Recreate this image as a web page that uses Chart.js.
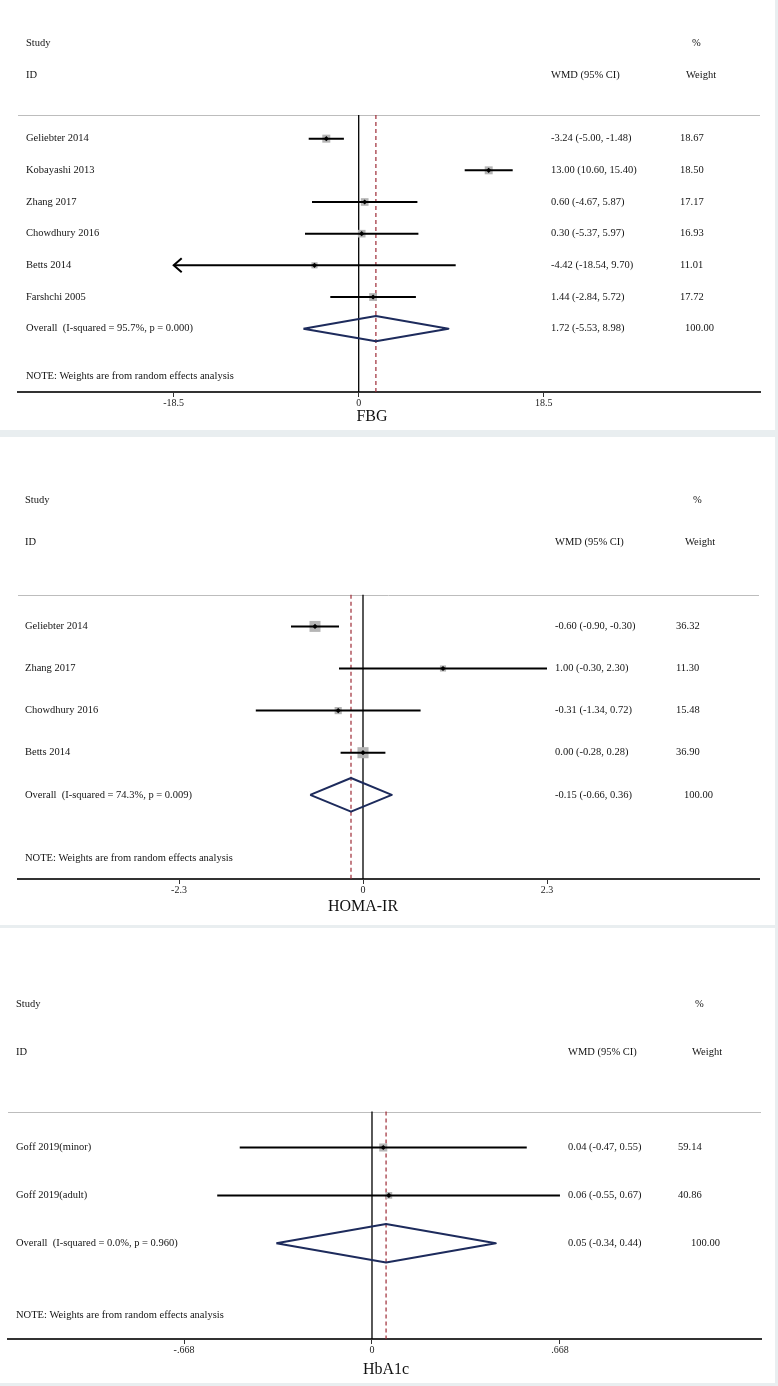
<!DOCTYPE html>
<html>
<head>
<meta charset="utf-8">
<script src="https://cdn.jsdelivr.net/npm/chart.js@4.4.1/dist/chart.umd.min.js"></script>
<style>
  body { margin: 0; background: #e9eef0; width: 778px; height: 1386px; position: relative; overflow: hidden; }
  .panel { position: absolute; left: 0; width: 775px; background: #fff; }
  canvas { display: block; }
</style>
</head>
<body>
<div class="panel" style="top:0;height:430px"><canvas id="fbgChart" width="775" height="430" style="width:775px;height:430px"></canvas></div>
<div class="panel" style="top:437px;height:488px"><canvas id="homaChart" width="775" height="488" style="width:775px;height:488px"></canvas></div>
<div class="panel" style="top:928px;height:455px"><canvas id="hba1cChart" width="775" height="455" style="width:775px;height:455px"></canvas></div>

<script>
// FBG
var fbgStudies = ["Geliebter 2014", "Kobayashi 2013", "Zhang 2017", "Chowdhury 2016", "Betts 2014", "Farshchi 2005"];
var fbgWmd    = [-3.24, 13.00, 0.60, 0.30, -4.42, 1.44];
var fbgLower  = [-5.00, 10.60, -4.67, -5.37, -18.54, -2.84];
var fbgUpper  = [-1.48, 15.40, 5.87, 5.97, 9.70, 5.72];
var fbgWeight = [18.67, 18.50, 17.17, 16.93, 11.01, 17.72];
var fbgOverall = [1.72, -5.53, 8.98];   // wmd, lower, upper
var fbgHet = "Overall  (I-squared = 95.7%, p = 0.000)";
var fbgTicks = [-18.5, 0, 18.5];
var fbgTickLabels = ["-18.5", "0", "18.5"];

// HOMA-IR
var homaStudies = ["Geliebter 2014", "Zhang 2017", "Chowdhury 2016", "Betts 2014"];
var homaWmd    = [-0.60, 1.00, -0.31, 0.00];
var homaLower  = [-0.90, -0.30, -1.34, -0.28];
var homaUpper  = [-0.30, 2.30, 0.72, 0.28];
var homaWeight = [36.32, 11.30, 15.48, 36.90];
var homaOverall = [-0.15, -0.66, 0.36];
var homaHet = "Overall  (I-squared = 74.3%, p = 0.009)";
var homaTicks = [-2.3, 0, 2.3];
var homaTickLabels = ["-2.3", "0", "2.3"];

// HbA1c
var hbaStudies = ["Goff 2019(minor)", "Goff 2019(adult)"];
var hbaWmd    = [0.04, 0.06];
var hbaLower  = [-0.47, -0.55];
var hbaUpper  = [0.55, 0.668];
var hbaWeight = [59.14, 40.86];
var hbaOverall = [0.05, -0.34, 0.44];
var hbaHet = "Overall  (I-squared = 0.0%, p = 0.960)";
var hbaTicks = [-0.668, 0, 0.668];
var hbaTickLabels = ["-.668", "0", ".668"];

Chart.defaults.font.family = '"Liberation Serif", "Times New Roman", serif';

function ciText(est, lo, hi) {
  return est.toFixed(2) + " (" + lo.toFixed(2) + ", " + hi.toFixed(2) + ")";
}

var forestPlugin = {
  id: "forest",
  beforeDatasetsDraw: function (chart) {
    var a = chart.chartArea, ctx = chart.ctx;
    var y = Math.round(chart.scales.y.getPixelForValue(-0.75)) + 0.5;
    ctx.save();
    ctx.strokeStyle = "#bdbdbd";
    ctx.lineWidth = 1;
    ctx.beginPath();
    ctx.moveTo(a.left, y);
    ctx.lineTo(a.right, y);
    ctx.stroke();
    ctx.restore();
  },
  afterDatasetsDraw: function (chart) {
    // arrow heads where a CI runs past the outer tick
    var o = chart.options.plugins.forest, ctx = chart.ctx;
    var xs = chart.scales.x, ys = chart.scales.y;
    ctx.save();
    ctx.strokeStyle = "#000";
    ctx.lineWidth = 2;
    o.arrows.forEach(function (ar) {
      var px = xs.getPixelForValue(ar.x), py = ys.getPixelForValue(ar.row);
      ctx.beginPath();
      ctx.moveTo(px - ar.dir * 8, py - 7);
      ctx.lineTo(px, py);
      ctx.lineTo(px - ar.dir * 8, py + 7);
      ctx.stroke();
    });
    ctx.restore();
  },
  afterDraw: function (chart) {
    var o = chart.options.plugins.forest, ctx = chart.ctx;
    var ys = chart.scales.y, a = chart.chartArea;
    var n = o.studies.length;
    ctx.save();
    ctx.font = '10.5px "Liberation Serif"';
    ctx.fillStyle = "#141414";
    ctx.textBaseline = "middle";
    ctx.textAlign = "left";
    function put(t, x, row) { ctx.fillText(t, x, ys.getPixelForValue(row)); }

    put("Study", o.colStudy, -3);
    put("%", o.colWt + o.pctDx, -3);
    put("ID", o.colStudy, -2);
    put("WMD (95% CI)", o.colWmd, -2);
    put("Weight", o.colWt + o.hdrDx, -2);

    var total = 0;
    for (var i = 0; i < n; i++) {
      put(o.studies[i], o.colStudy, i);
      put(ciText(o.wmd[i], o.lower[i], o.upper[i]), o.colWmd, i);
      put(o.weight[i].toFixed(2), o.colWt, i);
      total += o.weight[i];
    }
    put(o.het, o.colStudy, n);
    put(ciText(o.overall[0], o.overall[1], o.overall[2]), o.colWmd, n);
    put(total.toFixed(2), o.colWt + o.hdrDx - 1, n);
    put("NOTE: Weights are from random effects analysis", o.colStudy, n + 1.5);

    ctx.font = '16px "Liberation Serif"';
    ctx.fillStyle = "#111";
    ctx.textAlign = "center";
    ctx.fillText(o.title, o.titleX, a.bottom + o.titleDy);
    ctx.restore();
  }
};

bindForest = function (canvasId, studies, wmd, lower, upper, weight, overall, het, ticks, tickLabels, lay) {
  var n = studies.length;
  var tMax = Math.max.apply(null, ticks.map(Math.abs));
  var top = -0.75, bottom = n + 2;
  var datasets = [];
  var arrows = [];

  // null line and pooled estimate line
  datasets.push({ data: [{ x: 0, y: top }, { x: 0, y: bottom }], showLine: true,
    borderColor: "#000", borderWidth: 1.3, pointRadius: 0, order: 6 });
  datasets.push({ data: [{ x: overall[0], y: top }, { x: overall[0], y: bottom }], showLine: true,
    borderColor: "#9e2b36", borderWidth: 1.2, borderDash: [4, 3], pointRadius: 0, order: 5 });

  // weight boxes
  datasets.push({
    data: wmd.map(function (v, i) { return { x: v, y: i }; }),
    pointStyle: "rect",
    pointRadius: weight.map(function (w) { return lay.boxScale * Math.sqrt(w); }),
    backgroundColor: "#b5b5b5", borderWidth: 0, order: 4
  });

  // confidence intervals
  for (var i = 0; i < n; i++) {
    var lo = Math.max(lower[i], -tMax), hi = Math.min(upper[i], tMax);
    if (lower[i] < -tMax) arrows.push({ x: -tMax, row: i, dir: -1 });
    if (upper[i] > tMax) arrows.push({ x: tMax, row: i, dir: 1 });
    datasets.push({ data: [{ x: lo, y: i }, { x: hi, y: i }], showLine: true,
      borderColor: "#000", borderWidth: 2, pointRadius: 0, order: 3 });
  }

  // point estimates
  datasets.push({
    data: wmd.map(function (v, i) { return { x: v, y: i }; }),
    pointStyle: "rectRot", pointRadius: 2.6, backgroundColor: "#000", borderWidth: 0, order: 2
  });

  // pooled diamond
  datasets.push({
    data: [{ x: overall[1], y: n }, { x: overall[0], y: n - 0.4 }, { x: overall[2], y: n },
           { x: overall[0], y: n + 0.4 }, { x: overall[1], y: n }],
    showLine: true, borderColor: "#1d2b5c", borderWidth: 2, borderJoinStyle: "round",
    pointRadius: 0, order: 2
  });

  new Chart(document.getElementById(canvasId), {
    type: "scatter",
    data: { datasets: datasets },
    options: {
      responsive: false,
      animation: false,
      events: [],
      layout: { padding: { left: lay.padL, right: lay.padR, top: lay.padT, bottom: lay.padB } },
      plugins: {
        legend: { display: false },
        tooltip: { enabled: false },
        forest: {
          studies: studies, wmd: wmd, lower: lower, upper: upper, weight: weight,
          overall: overall, het: het, arrows: arrows, title: lay.title,
          colStudy: lay.colStudy, colWmd: lay.colWmd, colWt: lay.colWt,
          hdrDx: lay.hdrDx, pctDx: lay.pctDx, titleX: lay.titleX, titleDy: lay.titleDy
        }
      },
      scales: {
        x: {
          type: "linear",
          min: lay.xMin,
          max: lay.xMax,
          afterBuildTicks: function (s) { s.ticks = ticks.map(function (v) { return { value: v }; }); },
          ticks: {
            callback: function (v, idx) { return tickLabels[idx]; },
            font: { size: 10 }, color: "#222", padding: 0, maxRotation: 0, autoSkip: false
          },
          grid: { display: true, drawOnChartArea: false, drawTicks: true, tickLength: 5, color: "#333" },
          border: { display: true, color: "#333", width: 2 }
        },
        y: { type: "linear", reverse: true, min: -4, max: n + 2, display: false }
      }
    },
    plugins: [forestPlugin]
  });
};

bindForest("fbgChart", fbgStudies, fbgWmd, fbgLower, fbgUpper, fbgWeight, fbgOverall, fbgHet,
  fbgTicks, fbgTickLabels,
  { title: "FBG", xMin: -34.07, xMax: 40.13, padL: 18, padR: 15, padT: 12, padB: 21,
    boxScale: 1.31, colStudy: 26, colWmd: 551, colWt: 680, hdrDx: 6, pctDx: 12, titleX: 372, titleDy: 25 });

bindForest("homaChart", homaStudies, homaWmd, homaLower, homaUpper, homaWeight, homaOverall, homaHet,
  homaTicks, homaTickLabels,
  { title: "HOMA-IR", xMin: -4.3125, xMax: 4.95, padL: 18, padR: 16, padT: 21, padB: 29,
    boxScale: 1.29, colStudy: 25, colWmd: 555, colWt: 676, hdrDx: 9, pctDx: 17, titleX: 363, titleDy: 28 });

bindForest("hba1cChart", hbaStudies, hbaWmd, hbaLower, hbaUpper, hbaWeight, hbaOverall, hbaHet,
  hbaTicks, hbaTickLabels,
  { title: "HbA1c", xMin: -1.2935, xMax: 1.3824, padL: 8, padR: 14, padT: 28, padB: 27,
    boxScale: 0.74, colStudy: 16, colWmd: 568, colWt: 678, hdrDx: 14, pctDx: 17, titleX: 386, titleDy: 31 });
</script>
</body>
</html>
